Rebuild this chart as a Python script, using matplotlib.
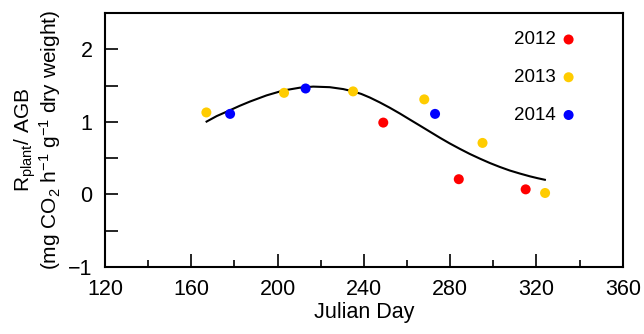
import matplotlib
matplotlib.use("Agg")
import matplotlib.pyplot as plt
from matplotlib.ticker import MultipleLocator, FixedLocator

plt.rcParams['font.family'] = ['Liberation Sans', 'DejaVu Sans']
plt.rcParams['mathtext.fontset'] = 'custom'
plt.rcParams['mathtext.rm'] = 'Liberation Sans'
plt.rcParams['mathtext.it'] = 'Liberation Sans:italic'

# measured points per year (Julian day, Rplant/AGB)
day_2012 = [249, 284, 315]
val_2012 = [0.99, 0.21, 0.07]
day_2013 = [167, 203, 235, 268, 295, 324]
val_2013 = [1.13, 1.40, 1.42, 1.31, 0.71, 0.02]
day_2014 = [178, 213, 273]
val_2014 = [1.11, 1.46, 1.11]

# fitted curve
fit_day = [167.1, 171.8, 177.9, 182.5, 187.2, 194.9, 202.6, 210.3, 216.5, 224.2,
           230.4, 235.0, 238.8, 242.8, 247.4, 252.0, 256.7, 261.3, 266.0, 270.6,
           275.2, 279.8, 284.5, 289.1, 293.8, 298.4, 303.0, 307.6, 312.3, 316.9,
           320.5, 323.9]
fit_val = [1.004, 1.080, 1.160, 1.222, 1.280, 1.365, 1.432, 1.471, 1.486, 1.478,
           1.452, 1.420, 1.385, 1.335, 1.268, 1.195, 1.115, 1.032, 0.948, 0.865,
           0.782, 0.703, 0.628, 0.558, 0.493, 0.433, 0.379, 0.330, 0.288, 0.250,
           0.224, 0.202]

fig = plt.figure(figsize=(6.44, 3.34), dpi=100)
ax = fig.add_axes([0.163, 0.2006, 0.804, 0.7604])

ax.plot(fit_day, fit_val, color='black', linewidth=1.5, zorder=2)

ms = 52
ax.scatter(day_2012, val_2012, s=ms, color='#ff0000', edgecolors='none', label='2012', zorder=3)
ax.scatter(day_2013, val_2013, s=ms, color='#ffcc00', edgecolors='none', label='2013', zorder=3)
ax.scatter(day_2014, val_2014, s=ms, color='#0000ff', edgecolors='none', label='2014', zorder=3)

ax.set_xlim(120, 360)
ax.set_ylim(-1, 2.5)
ax.xaxis.set_major_locator(MultipleLocator(40))
ax.xaxis.set_minor_locator(MultipleLocator(20))
ax.yaxis.set_major_locator(FixedLocator([-1, 0, 1, 2]))
ax.yaxis.set_minor_locator(FixedLocator([-0.5, 0.5, 1.5]))

for s in ax.spines.values():
    s.set_linewidth(1.5)
ax.tick_params(which='both', direction='in', width=1.2, labelsize=15.5)
ax.tick_params(axis='x', which='major', length=9.4, pad=9)
ax.tick_params(axis='x', which='minor', length=5)
ax.tick_params(axis='y', which='both', length=9.4, pad=9)

ax.set_xlabel('Julian Day', fontsize=15.5, labelpad=1)
ax.set_ylabel('R$_{\\mathregular{plant}}$/ AGB\n(mg CO$_2$ h$^{-1}$ g$^{-1}$ dry weight)',
              fontsize=15, linespacing=0.95, labelpad=4)

ax.legend(loc='upper right', bbox_to_anchor=(0.928, 0.965), frameon=False,
          markerfirst=False, fontsize=13.5, labelspacing=1.1,
          handletextpad=0.3, handlelength=0.8, borderpad=0)

fig.savefig('out.png', dpi=100)
